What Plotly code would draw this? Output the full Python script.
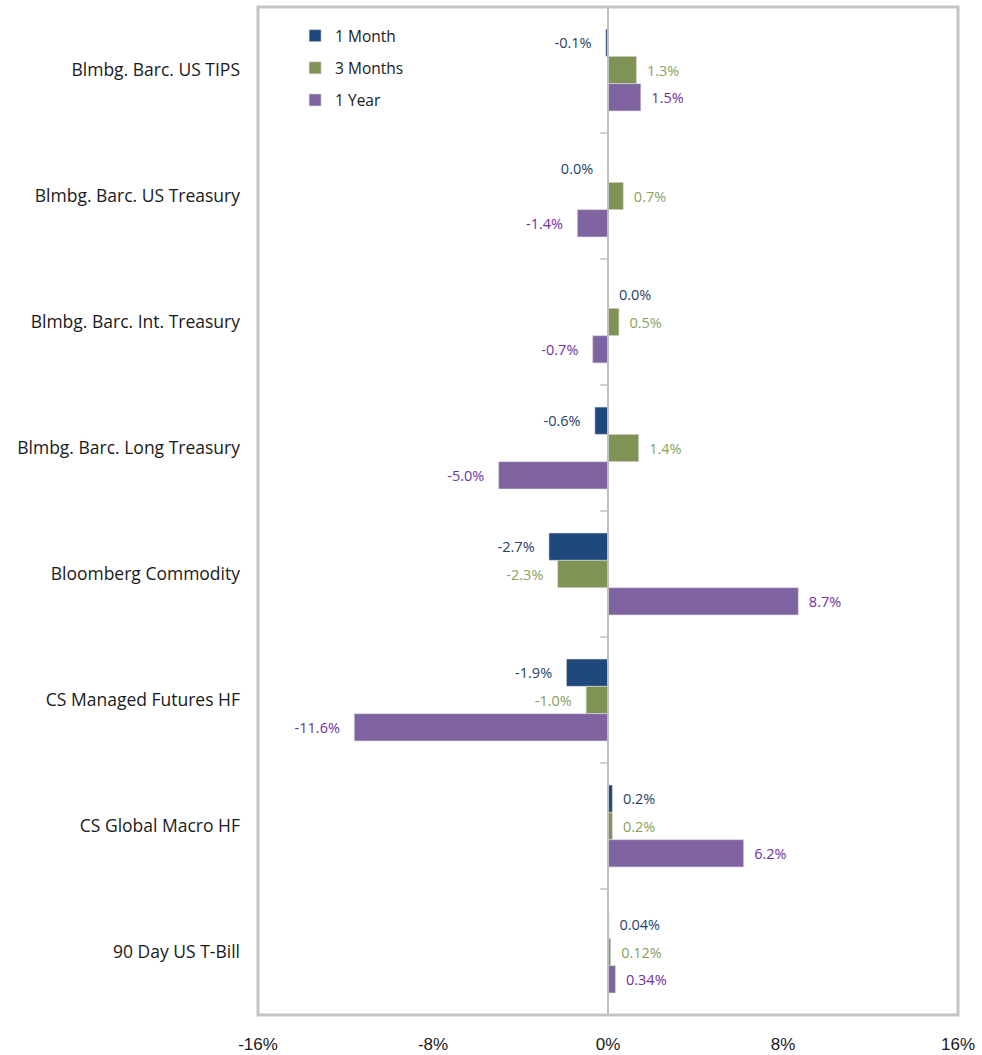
import plotly.graph_objects as go

categories = ["Blmbg. Barc. US TIPS", "Blmbg. Barc. US Treasury", "Blmbg. Barc. Int. Treasury",
              "Blmbg. Barc. Long Treasury", "Bloomberg Commodity", "CS Managed Futures HF",
              "CS Global Macro HF", "90 Day US T-Bill"]
series_names = ["1 Month", "3 Months", "1 Year"]
one_month = [-0.1, -0.02, 0.02, -0.6, -2.7, -1.9, 0.2, 0.04]
three_months = [1.3, 0.7, 0.5, 1.4, -2.3, -1.0, 0.2, 0.12]
one_year = [1.5, -1.4, -0.7, -5.0, 8.7, -11.6, 6.2, 0.34]
one_month_lbl = ["-0.1%", "0.0%", "0.0%", "-0.6%", "-2.7%", "-1.9%", "0.2%", "0.04%"]
three_months_lbl = ["1.3%", "0.7%", "0.5%", "1.4%", "-2.3%", "-1.0%", "0.2%", "0.12%"]
one_year_lbl = ["1.5%", "-1.4%", "-0.7%", "-5.0%", "8.7%", "-11.6%", "6.2%", "0.34%"]
tick_vals = [-16, -8, 0, 8, 16]
tick_text = ["-16%", "-8%", "0%", "8%", "16%"]

bar_colors = ["#1F497D", "#7F9355", "#8064A2"]
text_colors = ["#1F3F6B", "#8AA060", "#7030A0"]

NB = "\u00a0"
FONT = "Open Sans, Lato, sans-serif"


def pad(vals, labels):
    out = []
    for v, l in zip(vals, labels):
        out.append(NB * 2 + l if v >= 0 else l + NB * 3)
    return out


fig = go.Figure()
for name, vals, lbls, bc, tc in zip(series_names, [one_month, three_months, one_year],
                                    [one_month_lbl, three_months_lbl, one_year_lbl],
                                    bar_colors, text_colors):
    fig.add_trace(go.Bar(
        y=categories, x=vals, name=name, orientation="h", legendgroup=name,
        marker=dict(color=bc, line=dict(color="#D9D9D9", width=0.6)),
        text=pad(vals, lbls), textposition="outside", cliponaxis=False,
        textfont=dict(family=FONT, size=14.5, color=tc),
        hoverinfo="x+y+name",
    ))

shapes = []
# category separator ticks along the zero line
for i in range(len(categories) - 1):
    shapes.append(dict(type="line", xref="x", yref="y", x0=-0.35, x1=0,
                       y0=i + 0.5, y1=i + 0.5, line=dict(color="#BFBFBF", width=1.5)))
# zero line
shapes.append(dict(type="line", xref="x", yref="paper", x0=0, x1=0, y0=0, y1=1,
                   line=dict(color="#BFBFBF", width=2), layer="above"))
# frame
shapes.append(dict(type="rect", xref="paper", yref="paper", x0=0, x1=1, y0=0, y1=1,
                   line=dict(color="#C4C4C4", width=3)))

fig.update_layout(
    width=982, height=1055,
    margin=dict(l=258, r=24, t=7, b=40),
    barmode="group", bargap=0.35, bargroupgap=0,
    plot_bgcolor="white", paper_bgcolor="white",
    font=dict(family=FONT, color="#1A1A1A"),
    showlegend=True,
    legend=dict(x=0.053, y=0.988, xanchor="left", yanchor="top",
                font=dict(family=FONT, size=15.5, color="#1A1A1A"),
                bgcolor="rgba(0,0,0,0)", tracegroupgap=9, itemwidth=30),
    shapes=shapes,
)
fig.update_xaxes(range=[-16, 16], tickvals=tick_vals, ticktext=tick_text,
                 showgrid=False, zeroline=False, showline=False, ticks="",
                 tickfont=dict(family="Liberation Sans Narrow, Arial Narrow, sans-serif",
                               size=17, color="#1A1A1A"),
                 ticklabelstandoff=17, fixedrange=True, automargin=False)
fig.update_yaxes(autorange="reversed", showgrid=False, zeroline=False, showline=False,
                 ticks="", ticklabelstandoff=17, automargin=False,
                 tickfont=dict(family=FONT, size=17.5, color="#1A1A1A"))

fig.write_html("out.html", config={"displayModeBar": False},
               post_script="document.body.style.margin='0';document.body.style.overflow='hidden';")
